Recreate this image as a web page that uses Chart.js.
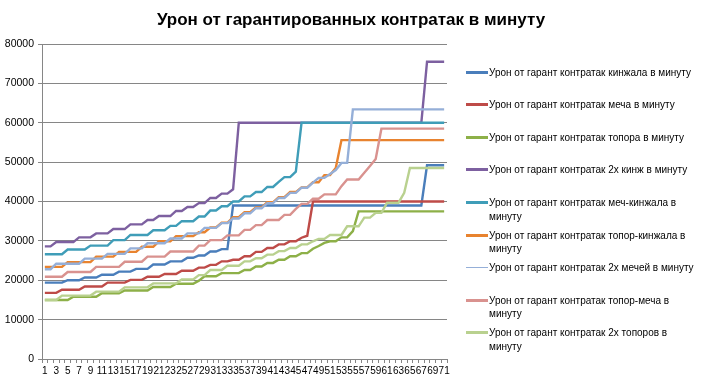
<!DOCTYPE html>
<html>
<head>
<meta charset="utf-8">
<script src="https://cdn.jsdelivr.net/npm/chart.js@4.4.1/dist/chart.umd.min.js"></script>
<style>
    body { margin: 0; background: #fff; }
    #wrap { position: relative; width: 702px; height: 385px; }
    #titulo { position: absolute; left: 0; top: 9px; width: 702px; text-align: center;
              font: bold 17px 'Liberation Sans', Arial, sans-serif; color: #000; line-height: 22px; }
    #legend { position: absolute; left: 466px; top: 0; }
    .item { position: absolute; left: 0; display: flex; align-items: flex-start;
            font: 10px 'Liberation Sans', Arial, sans-serif; line-height: 13.5px; color: #000; }
    .swatch { width: 22px; height: 3px; margin-top: 5px; margin-right: 1px; }
    .txt { width: 212px; }
</style>
</head>
<body>
<div id="wrap">
    <canvas id="grafico" width="702" height="385"></canvas>
    <div id="titulo">Урон от гарантированных контратак в минуту</div>
    <div id="legend"></div>
</div>
<script>
// categories and series
const categorias = ['1','2','3','4','5','6','7','8','9','10','11','12','13','14','15','16','17','18','19','20',
    '21','22','23','24','25','26','27','28','29','30','31','32','33','34','35','36','37','38','39','40',
    '41','42','43','44','45','46','47','48','49','50','51','52','53','54','55','56','57','58','59','60',
    '61','62','63','64','65','66','67','68','69','70','71'];

const yTicks = [0, 10000, 20000, 30000, 40000, 50000, 60000, 70000, 80000];

const kinzhal = [19400,19400,19400,19400,20000,20000,20000,20700,20700,20700,21400,21400,21400,22200,22200,22200,
    22900,22900,22900,24000,24000,24000,24800,24800,24800,25700,25700,26300,26300,27300,27300,27900,27900,
    39000,39000,39000,39000,39000,39000,39000,39000,39000,39000,39000,39000,39000,39000,39000,39000,39000,
    39000,39000,39000,39000,39000,39000,39000,39000,39000,39000,39000,39000,39000,39000,39000,39000,39000,
    49200,49200,49200,49200];

const mech = [16800,16800,16800,17600,17600,17600,17600,18400,18400,18400,18400,19400,19400,19400,19400,
    20100,20100,20100,20900,20900,20900,21600,21600,21600,22400,22400,22400,23200,23200,23900,23900,
    24800,24800,25200,25200,26100,26100,27200,27200,28200,28200,29100,29100,29900,29900,30800,31300,
    40000,40000,40000,40000,40000,40000,40000,40000,40000,40000,40000,40000,40000,40000,40000,40000,
    40000,40000,40000,40000,40000,40000,40000,40000];

const topor = [15000,15000,15000,15000,15000,15800,15800,15800,15800,15800,16700,16700,16700,16700,
    17400,17400,17400,17400,17400,18300,18300,18300,18300,19100,19100,19100,19100,19900,21000,21000,21000,
    21800,21800,21800,21800,22600,22600,23500,23500,24400,24400,25200,25200,26100,26100,26900,26900,
    28000,28700,29500,29900,29900,30900,30900,32500,
    37500,37500,37500,37500,37500,37500,37500,37500,37500,37500,37500,37500,37500,37500,37500,37500];

const dvaKinzh = [28600,28600,29700,29700,29700,29700,30900,30900,30900,31900,31900,31900,33000,33000,33000,
    34200,34200,34200,35300,35300,36300,36300,36300,37600,37600,38600,38600,39600,39600,40900,40900,
    42000,42000,43100,
    60000,60000,60000,60000,60000,60000,60000,60000,60000,60000,60000,60000,60000,60000,60000,60000,60000,
    60000,60000,60000,60000,60000,60000,60000,60000,60000,60000,60000,60000,60000,60000,60000,60000,
    75500,75500,75500,75500];

const mechKinzh = [26600,26600,26600,26600,27800,27800,27800,27800,28800,28800,28800,28800,30200,30200,30200,
    31500,31500,31500,31500,32700,32700,32700,33800,33800,35000,35000,35000,36200,36200,37700,37700,
    38800,38800,40000,40000,41300,41300,42400,42400,43700,43700,45000,46200,46200,47600,
    60000,60000,60000,60000,60000,60000,60000,60000,60000,60000,60000,60000,60000,60000,60000,60000,
    60000,60000,60000,60000,60000,60000,60000,60000,60000,60000];

const toporKinzh = [23400,23400,23400,23400,24600,24600,24600,24600,24600,26000,26000,26000,26000,
    27200,27200,27200,27200,28500,28500,28500,29900,29900,29900,31200,31200,31200,31200,32200,32200,
    33400,33400,34600,34600,36000,36000,37300,37300,38500,38500,39800,39800,41100,41100,42400,42400,
    43600,43600,44900,44900,46700,46700,48500,
    55600,55600,55600,55600,55600,55600,55600,55600,55600,55600,55600,55600,55600,55600,55600,55600,
    55600,55600,55600];

const dvaMecha = [22800,22800,24200,24200,24200,24200,24200,25500,25500,25500,25500,26700,26700,26700,26700,
    28100,28100,28100,29400,29400,29400,29400,30600,30600,30600,31900,31900,31900,33300,33300,33300,
    34500,34500,35700,35700,37000,37000,38300,38300,39600,39600,40900,40900,42200,42200,43500,43500,
    44800,46000,46000,47000,48000,49800,49800,
    63400,63400,63400,63400,63400,63400,63400,63400,63400,63400,63400,63400,63400,63400,63400,63400,63400];

const toporMecha = [20900,20900,20900,20900,22100,22100,22100,22100,22100,23400,23400,23400,23400,23400,
    24700,24700,24700,24700,26000,26000,26000,26000,27300,27300,27300,27300,27300,28800,28800,
    30200,30200,30200,31400,31400,31400,32800,32800,34000,34000,35300,35300,35300,36600,36600,38100,
    39400,39400,40700,40700,41800,41800,41800,43900,45600,45600,45600,47300,49000,50800,
    58500,58500,58500,58500,58500,58500,58500,58500,58500,58500,58500,58500];

const dvaTopora = [15000,15000,15000,16100,16100,16100,16100,16100,16100,17100,17100,17100,17100,17100,
    18200,18200,18200,18200,18200,19200,19200,19200,19200,19200,20200,20200,20200,21300,21300,
    22600,22600,22600,23700,23700,23700,24800,24800,25600,25600,26500,26500,27400,27400,28200,28200,
    29100,29100,29900,30500,30500,31500,31500,31500,33700,33700,33700,35900,35900,37100,37100,
    39700,39700,39700,42200,48500,48500,48500,48500,48500,48500,48500];

const series = [
    { label: 'Урон от гарант контратак кинжала в минуту', data: kinzhal, cor: '#4A7EBB' },
    { label: 'Урон от гарант контратак меча в минуту', data: mech, cor: '#BE4B48' },
    { label: 'Урон от гарант контратак топора в минуту', data: topor, cor: '#8DB048' },
    { label: 'Урон от гарант контратак 2х кинж в минуту', data: dvaKinzh, cor: '#7D60A0' },
    { label: 'Урон от гарант контратак меч-кинжала в минуту', data: mechKinzh, cor: '#3F9DB8' },
    { label: 'Урон от гарант контратак топор-кинжала в минуту', data: toporKinzh, cor: '#E8832F' },
    { label: 'Урон от гарант контратак 2х мечей в минуту', data: dvaMecha, cor: '#95AFD8', fina: true },
    { label: 'Урон от гарант контратак топор-меча в минуту', data: toporMecha, cor: '#D9928F' },
    { label: 'Урон от гарант контратак 2х топоров в минуту', data: dvaTopora, cor: '#B9D18F' }
];

const ctx = document.getElementById('grafico').getContext('2d');
const grafico = new Chart(ctx, {
    type: 'line',
    data: {
        labels: categorias,
        datasets: series.map((s, i) => ({
            label: s.label,
            data: s.data,
            borderColor: s.cor,
            backgroundColor: s.cor,
            borderWidth: 2.4,
            pointRadius: 0,
            tension: 0,
            order: series.length - i
        }))
    },
    options: {
        responsive: false,
        animation: false,
        layout: { padding: { left: 0, right: 255, top: 44, bottom: 0 } },
        plugins: {
            legend: { display: false },
            tooltip: { enabled: false },
            title: { display: false }
        },
        scales: {
            x: {
                offset: true,
                grid: { display: true, drawOnChartArea: false, offset: true, tickLength: 4, color: '#868686' },
                border: { color: '#868686' },
                ticks: {
                    autoSkip: false, maxRotation: 0, minRotation: 0, padding: 2,
                    color: '#000',
                    font: { family: "'Liberation Sans', Arial, sans-serif", size: 10 },
                    callback: function (v, i) { return i % 2 === 0 ? categorias[i] : ''; }
                },
                afterFit: function (s) { s.height = 26; }
            },
            y: {
                min: 0, max: 80000,
                afterBuildTicks: function (s) { s.ticks = yTicks.map(v => ({ value: v })); },
                grid: { color: '#868686', tickLength: 4 },
                border: { color: '#868686' },
                ticks: {
                    padding: 4, color: '#000',
                    font: { family: "'Liberation Sans', Arial, sans-serif", size: 10.5 },
                    callback: function (v) { return String(v); }
                },
                afterFit: function (s) { s.width = 42; }
            }
        }
    }
});

// legenda ao lado, com quebra de linha como no original
const legenda = document.getElementById('legend');
series.forEach((s, i) => {
    const item = document.createElement('div');
    item.className = 'item';
    item.style.top = (65.6 + i * 32.6) + 'px';
    const sw = document.createElement('span');
    sw.className = 'swatch';
    sw.style.background = s.cor;
    if (s.fina) { sw.style.height = '1px'; sw.style.marginTop = '6px'; }
    const tx = document.createElement('span');
    tx.className = 'txt';
    tx.textContent = s.label;
    item.appendChild(sw);
    item.appendChild(tx);
    legenda.appendChild(item);
});
</script>
</body>
</html>
